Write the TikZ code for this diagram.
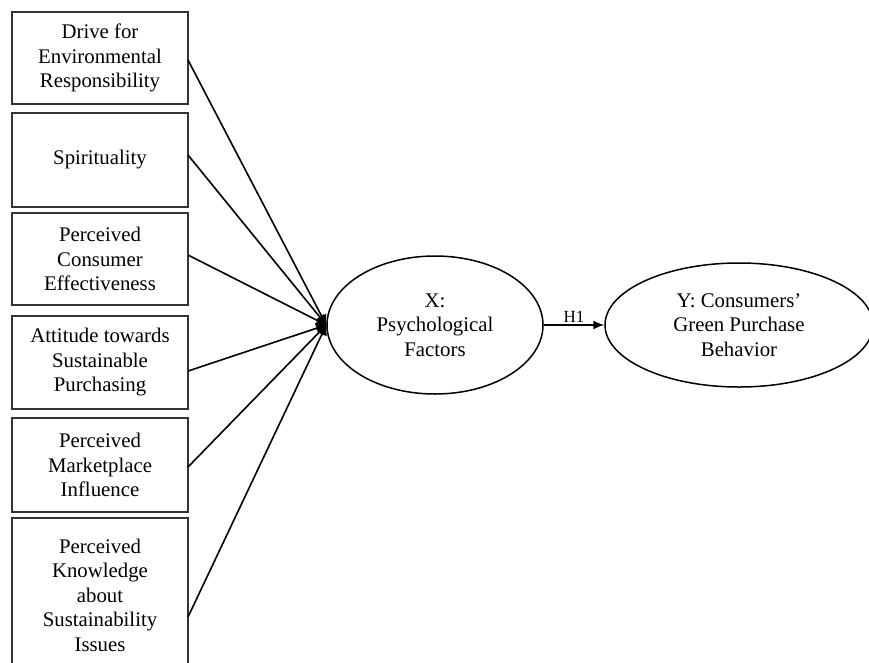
\documentclass[tikz,border=0pt]{standalone}
\usepackage{fontspec}
\setmainfont{Liberation Serif}
\usetikzlibrary{shapes.geometric,arrows.meta}
\tikzset{
  factorbox/.style={draw=black!80, line width=1.8pt, minimum width=176pt, inner sep=0pt, align=center, font=\fontsize{20.8}{24.5}\selectfont},
  factortext/.style={inner sep=0pt, align=center, font=\fontsize{20.8}{24.5}\selectfont},
  latent/.style={draw, ellipse, line width=1.5pt, inner sep=0pt, align=center, font=\fontsize{20.8}{24.5}\selectfont},
  link/.style={line width=1.6pt, -{Latex[length=11pt,width=11pt]}, shorten >=-1pt},
  hyp/.style={line width=1.6pt, -{Latex[length=11pt,width=9pt]}}
}
\begin{document}
\begin{tikzpicture}[x=1pt,y=-1pt]
\useasboundingbox (0,0) rectangle (869,662);
\fill[white] (0,0) rectangle (869,662);
\clip (0,0) rectangle (869,662);
\node[factorbox, minimum height=92pt] (b1) at (100,58) {Drive for\\Environmental\\Responsibility};
\node[factorbox, minimum height=94pt] (b2) at (100,160) {Spirituality};
\node[factorbox, minimum height=92pt] (b3) at (100,259) {Perceived\\Consumer\\Effectiveness};
\node[factorbox, minimum height=93pt] (b4) at (100,362.5) {Attitude towards\\Sustainable\\Purchasing};
\node[factorbox, minimum height=94pt] (b5) at (100,465) {Perceived\\Marketplace\\Influence};
\node[factorbox, minimum height=198pt] (b6) at (100,617) {};
\node[factortext] (t6) at (100,595) {Perceived\\Knowledge\\about\\Sustainability\\Issues};
\node[latent, minimum width=216pt, minimum height=138pt] (X) at (435,325) {X:\\Psychological\\Factors};
\node[latent, minimum width=268pt, minimum height=124pt] (Y) at (739,325) {Y: Consumers’\\Green Purchase\\Behavior};
\coordinate (b1p) at (188,60);
\coordinate (b2p) at (188,155);
\coordinate (b3p) at (188,255);
\coordinate (b4p) at (188,371);
\coordinate (b5p) at (188,467);
\coordinate (b6p) at (188,617);
\foreach \p in {b1p,b2p,b3p,b4p,b5p,b6p} \draw[link] (\p) -- (X.west);
\draw[hyp] (X.east) -- node[above=1pt, font=\fontsize{17}{20}\selectfont, inner sep=1pt] (h1) {H1} (Y.west);
\end{tikzpicture}
\end{document}
